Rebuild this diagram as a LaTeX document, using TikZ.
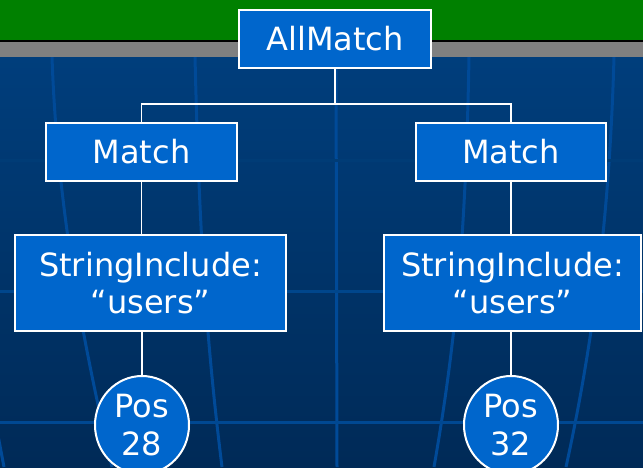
\documentclass[tikz,border=0pt]{standalone}
\usepackage{fontspec}
\setmainfont{DejaVu Sans}
\usetikzlibrary{shapes.geometric}

\definecolor{bandgreen}{HTML}{008000}
\definecolor{bandgrey}{HTML}{808080}
\definecolor{skytop}{HTML}{003E7C}
\definecolor{skybottom}{HTML}{002A57}
\definecolor{gridblue}{HTML}{004A98}
\definecolor{boxblue}{HTML}{0066CC}

\tikzset{
  treebox/.style={draw=white, line width=2pt, fill=boxblue, text=white,
    inner sep=0pt, align=center, font=\fontsize{32}{37}\selectfont},
  posnode/.style={ellipse, draw=white, line width=2pt, fill=boxblue, text=white,
    inner sep=0pt, align=center, font=\fontsize{32}{38}\selectfont,
    minimum width=94pt, minimum height=98pt},
  conn/.style={draw=white, line width=1.5pt},
  gridline/.style={draw=gridblue, line width=3pt},
}

\begin{document}
\begin{tikzpicture}[x=1pt, y=-1pt]
\useasboundingbox (0,0) rectangle (643,467);

% title bands and backdrop
\fill[bandgreen] (0,0) rectangle (643,40);
\fill[black] (0,40) rectangle (643,42);
\fill[bandgrey] (0,42) rectangle (643,57);
\shade[top color=skytop, bottom color=skybottom] (0,57) rectangle (643,467);

% curved grid on the backdrop
\begin{scope}
  \clip (0,57) rectangle (643,467);
  \draw[gridline] (-3,430) -- (4,467);
  \draw[gridline] (52,57) .. controls (57,200) and (80,330) .. (112,467);
  \draw[gridline] (195,57) .. controls (199,220) and (205,330) .. (222,467);
  \draw[gridline] (336,57) -- (337,467);
  \draw[gridline] (469,57) .. controls (466,220) and (458,330) .. (434,467);
  \draw[gridline] (614,57) .. controls (610,200) and (596,330) .. (566,467);
  \draw[draw={rgb,255:red,0;green,60;blue,118}, line width=3pt] (0,160) -- (643,160);
  \draw[draw={rgb,255:red,0;green,70;blue,140}, line width=3pt] (0,291) -- (643,291);
  \draw[draw={rgb,255:red,0;green,72;blue,146}, line width=3pt] (0,422) -- (643,422);
\end{scope}

% tree nodes
\node[treebox, minimum width=192pt, minimum height=58pt] (all) at (335,39) {AllMatch};
\node[treebox, minimum width=191pt, minimum height=58pt] (ml) at (141.5,152) {Match};
\node[treebox, minimum width=190pt, minimum height=58pt] (mr) at (511,152) {Match};
\node[treebox, minimum width=271pt, minimum height=96pt] (sl) at (150.5,283) {StringInclude:\\“users”};
\node[treebox, minimum width=257pt, minimum height=96pt] (sr) at (512.5,283) {StringInclude:\\“users”};
\node[posnode] (pl) at (142,425) {Pos\\28};
\node[posnode] (pr) at (511,425) {Pos\\32};

% connectors
\coordinate (hub) at (335,104);
\draw[conn] (all.south) -- (hub);
\draw[conn] (ml.north) -- (ml.north |- hub) -- (mr.north |- hub) -- (mr.north);
\draw[conn] (ml.south) -- (ml.south |- sl.north);
\draw[conn] (mr.south) -- (mr.south |- sr.north);
\draw[conn] (pl.north |- sl.south) -- (pl.north);
\draw[conn] (pr.north |- sr.south) -- (pr.north);
\end{tikzpicture}
\end{document}
